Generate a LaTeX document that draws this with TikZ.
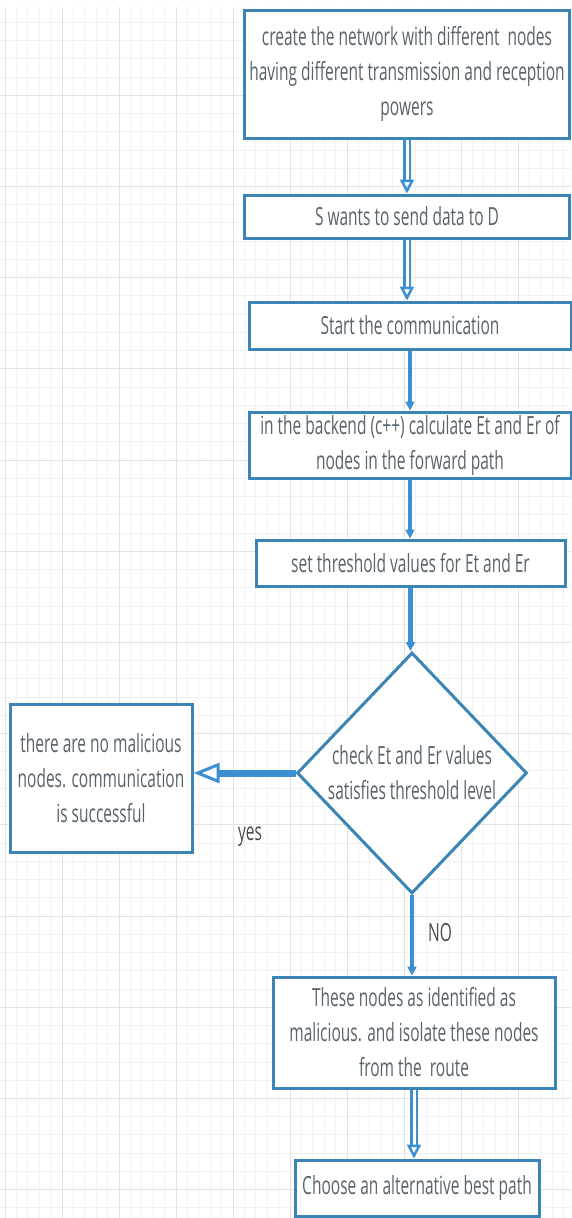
\documentclass[tikz,border=0pt]{standalone}
\usepackage{fontspec}
\setmainfont[FakeStretch=0.62]{Open Sans}
\usetikzlibrary{shapes.geometric,arrows.meta}
\definecolor{boxblue}{HTML}{3A85B5}
\definecolor{arrowblue}{HTML}{3C8FD2}
\definecolor{textgray}{HTML}{58636B}
\definecolor{gridminor}{HTML}{F2F2F2}
\definecolor{gridmajor}{HTML}{E2E2E2}
\tikzset{
  stepbox/.style={draw=boxblue, line width=3pt, fill=white, text=textgray, align=center,
    inner sep=0pt, font=\fontsize{25}{35}\selectfont},
  decision/.style={stepbox, diamond, shape aspect=0.95},
  dblarrow/.style={draw=arrowblue, double=white, double distance=3pt, line width=2.5pt,
    -{Triangle[open,length=14pt,width=14pt]}},
  thickarrow/.style={draw=arrowblue, line width=4.5pt, -{Triangle[length=9pt,width=9pt]}},
  yesarrow/.style={draw=arrowblue, line width=7pt,
    -{Triangle[open,length=26pt,width=20pt,line width=3pt]}},
  lbl/.style={text=black!70, font=\fontsize{25}{30}\selectfont},
}
\begin{document}
\begin{tikzpicture}[x=1pt,y=-1pt]
  \useasboundingbox (0,0) rectangle (571,1218);
  \fill[white] (0,0) rectangle (571,1218);
  % background grid
  \foreach \gx in {0,...,49}
    \draw[gridminor, line width=0.8pt] ({5+11.4*\gx},7) -- ({5+11.4*\gx},1218);
  \foreach \gy in {1,...,66}
    \draw[gridminor, line width=0.8pt] (0,{4+18.24*\gy}) -- (571,{4+18.24*\gy});
  \foreach \gx in {0,...,9}
    \draw[gridmajor, line width=1pt] ({5+57*\gx},7) -- ({5+57*\gx},1218);
  \foreach \gy in {1,...,13}
    \draw[gridmajor, line width=1pt] (0,{4+91.2*\gy}) -- (571,{4+91.2*\gy});

  % steps
  \node[stepbox, minimum width=325pt, minimum height=128pt] (create) at (407,74)
    {create the network with different\ \ nodes\\having different transmission and reception\\powers};
  \node[stepbox, minimum width=325pt, minimum height=43pt] (send) at (407,216.5)
    {S wants to send data to D};
  \node[stepbox, minimum width=322pt, minimum height=47pt] (start) at (410,325.5)
    {Start the communication};
  \node[stepbox, minimum width=322pt, minimum height=66pt] (backend) at (410,445)
    {in the backend (c++) calculate Et and Er of\\nodes in the forward path};
  \node[stepbox, minimum width=309pt, minimum height=46pt] (threshold) at (410.5,563)
    {set threshold values for Et and Er};
  \node[decision, minimum width=230pt, minimum height=241pt] (check) at (412,773)
    {check Et and Er values\\satisfies threshold level};
  \node[stepbox, minimum width=182pt, minimum height=148pt] (nomal) at (101,778)
    {there are no malicious\\nodes. communication\\is successful};
  \node[stepbox, minimum width=282pt, minimum height=111pt] (isolate) at (414,1032.5)
    {These nodes as identified as\\malicious. and isolate these nodes\\from the\ \ route};
  \node[stepbox, minimum width=244pt, minimum height=56pt] (alt) at (417,1188)
    {Choose an alternative best path};

  % labels
  \node[lbl] (yes) at (250,837) {yes};
  \node[lbl] (no)  at (440,933) {NO};

  % connectors
  \draw[dblarrow]   (create.south)  -- (create.south |- send.north);
  \draw[dblarrow]   (send.south)    -- (send.south |- start.north);
  \draw[thickarrow] (start.south)   -- (start.south |- backend.north);
  \draw[thickarrow] (backend.south) -- (backend.south |- threshold.north);
  \draw[thickarrow] (threshold.south) -- (threshold.south |- check.north);
  \draw[yesarrow]   (check.west)    -- (check.west -| nomal.east);
  \draw[thickarrow] (check.south)   -- (check.south |- isolate.north);
  \draw[dblarrow]   (isolate.south) -- (isolate.south |- alt.north);
\end{tikzpicture}
\end{document}
